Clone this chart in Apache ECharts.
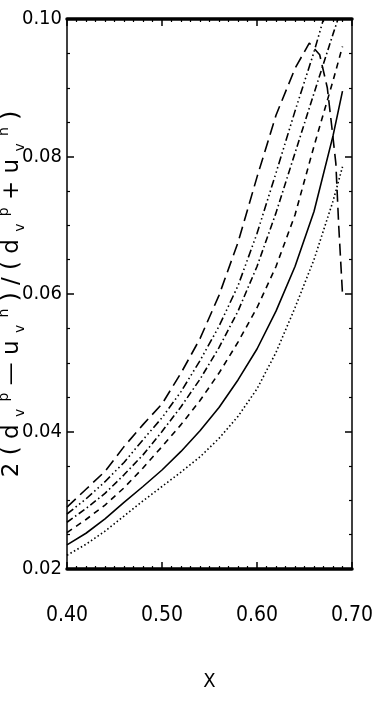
<!DOCTYPE html>
<html>
<head>
<meta charset="utf-8">
<script src="https://cdn.jsdelivr.net/npm/echarts@6/dist/echarts.min.js"></script>
<style>
  html, body { margin: 0; padding: 0; background: #fff; }
  #grafico { width: 382px; height: 708px; }
</style>
</head>
<body>
<div id="grafico"></div>
<script>
// datos, x y 2(d-u)/(d+u)
var xTicks = [0.40, 0.50, 0.60, 0.70];
var yTicks = [0.02, 0.04, 0.06, 0.08, 0.10];

// linea de trazos largos (la que sube y luego cae)
var largo = [[0.40,0.0290],[0.42,0.0316],[0.44,0.0342],[0.46,0.0378],[0.48,0.0410],[0.50,0.0440],
    [0.52,0.0485],[0.54,0.0535],[0.56,0.0598],[0.58,0.0675],[0.60,0.0770],[0.62,0.0860],
    [0.64,0.0928],[0.655,0.0965],[0.666,0.0948],[0.674,0.0900],[0.679,0.0840],[0.683,0.0790],
    [0.686,0.0700],[0.690,0.0600]];
// trazo punto punto punto
var trazoPuntos = [[0.40,0.0280],[0.42,0.0302],[0.44,0.0327],[0.46,0.0355],[0.48,0.0388],[0.50,0.0420],
    [0.52,0.0458],[0.54,0.0503],[0.56,0.0553],[0.58,0.0612],[0.60,0.0688],[0.62,0.0776],
    [0.64,0.0866],[0.66,0.0952],[0.67,0.1000],[0.68,0.1040]];
// trazo punto
var trazoPunto = [[0.40,0.0268],[0.42,0.0288],[0.44,0.0310],[0.46,0.0337],[0.48,0.0366],[0.50,0.0400],
    [0.52,0.0436],[0.54,0.0476],[0.56,0.0522],[0.58,0.0575],[0.60,0.0640],[0.62,0.0718],
    [0.64,0.0805],[0.66,0.0892],[0.68,0.0978],[0.69,0.1020]];
// trazos cortos
var trazos = [[0.40,0.0253],[0.42,0.0272],[0.44,0.0293],[0.46,0.0318],[0.48,0.0347],[0.50,0.0378],
    [0.52,0.0410],[0.54,0.0445],[0.56,0.0485],[0.58,0.0530],[0.60,0.0580],[0.62,0.0640],
    [0.64,0.0715],[0.66,0.0815],[0.68,0.0910],[0.69,0.0960]];
// continua
var continua = [[0.40,0.0235],[0.42,0.0252],[0.44,0.0273],[0.46,0.0297],[0.48,0.0320],[0.50,0.0344],
    [0.52,0.0371],[0.54,0.0401],[0.56,0.0435],[0.58,0.0475],[0.60,0.0520],[0.62,0.0575],
    [0.64,0.0640],[0.66,0.0720],[0.68,0.0830],[0.69,0.0895]];
// punteada
var punteada = [[0.40,0.0220],[0.42,0.0236],[0.44,0.0255],[0.46,0.0277],[0.48,0.0299],[0.50,0.0320],
    [0.52,0.0341],[0.54,0.0363],[0.56,0.0390],[0.58,0.0422],[0.60,0.0462],[0.62,0.0515],
    [0.64,0.0580],[0.66,0.0650],[0.68,0.0735],[0.69,0.0785]];

var fuenteEstrecha = "'Liberation Sans Narrow', 'DejaVu Sans Condensed', 'Roboto Condensed', 'Liberation Sans', sans-serif";

var dom = document.getElementById('grafico');
var myChart = echarts.init(dom, null, {
    renderer: 'canvas',
    useDirtyRect: false
});

var option;

function linea(datos, tipo) {
    return {
        type: 'line',
        data: datos,
        showSymbol: false,
        animation: false,
        lineStyle: { color: '#000', width: 1.6, type: tipo }
    };
}

var eje = {
    type: 'value',
    axisLine: { show: true, lineStyle: { color: '#000', width: 1.5 } },
    axisTick: { show: true, inside: true, length: 7, lineStyle: { color: '#000', width: 1.5 } },
    minorTick: { show: true, length: 3, lineStyle: { color: '#000', width: 1.2 } },
    splitLine: { show: false },
    minorSplitLine: { show: false }
};

option = {
    backgroundColor: '#fff',
    grid: { left: 67, right: 30, top: 19, bottom: 139, outerBoundsMode: 'none', containLabel: false },
    xAxis: [
        Object.assign({}, eje, {
            position: 'bottom',
            min: xTicks[0], max: xTicks[xTicks.length - 1], interval: 0.1,
            minorTick: Object.assign({}, eje.minorTick, { splitNumber: 10 }),
            axisLine: { show: true, lineStyle: { color: '#000', width: 3.5 } },
            axisLabel: {
                margin: 36, color: '#000', fontSize: 21,
                fontFamily: fuenteEstrecha,
                formatter: function (v) { return v.toFixed(2); }
            },
            name: 'X', nameLocation: 'middle', nameGap: 103, nameMoveOverlap: false,
            nameTextStyle: { color: '#000', fontSize: 20, fontFamily: fuenteEstrecha }
        }),
        Object.assign({}, eje, {
            position: 'top',
            min: xTicks[0], max: xTicks[xTicks.length - 1], interval: 0.1,
            minorTick: Object.assign({}, eje.minorTick, { splitNumber: 10 }),
            axisLine: { show: true, lineStyle: { color: '#000', width: 3.5 } },
            axisLabel: { show: false }
        })
    ],
    yAxis: [
        Object.assign({}, eje, {
            position: 'left',
            min: yTicks[0], max: yTicks[yTicks.length - 1], interval: 0.02,
            minorTick: Object.assign({}, eje.minorTick, { splitNumber: 4 }),
            axisLabel: {
                margin: 5, color: '#000', fontSize: 20,
                fontFamily: fuenteEstrecha,
                formatter: function (v) { return v.toFixed(2); }
            },
            name: '2 ( d {s|v} {p|p} \u2014 u {s|v} {p|n} ) / ( d {s|v} {p|p} + u {s|v} {p|n} )',
            nameLocation: 'middle', nameGap: 40, nameRotate: 90, nameMoveOverlap: false,
            nameTextStyle: {
                color: '#000', fontSize: 23, fontFamily: 'DejaVu Sans', lineHeight: 30,
                rich: {
                    s: { fontSize: 14, fontFamily: 'DejaVu Sans', color: '#000', lineHeight: 14, verticalAlign: 'bottom' },
                    p: { fontSize: 14, fontFamily: 'DejaVu Sans', color: '#000', lineHeight: 14, verticalAlign: 'top' }
                }
            }
        }),
        Object.assign({}, eje, {
            position: 'right',
            min: yTicks[0], max: yTicks[yTicks.length - 1], interval: 0.02,
            minorTick: Object.assign({}, eje.minorTick, { splitNumber: 4 }),
            axisLabel: { show: false }
        })
    ],
    series: [
        linea(largo, [12, 6]),
        linea(trazoPuntos, [8, 3, 1.5, 3, 1.5, 3, 1.5, 3]),
        linea(trazoPunto, [7, 3, 1.5, 3]),
        linea(trazos, [6, 5]),
        linea(continua, 'solid'),
        linea(punteada, [1.5, 2.5])
    ]
};

if (option && typeof option === 'object') {
    myChart.setOption(option);
}

window.addEventListener('resize', myChart.resize);
</script>
</body>
</html>
